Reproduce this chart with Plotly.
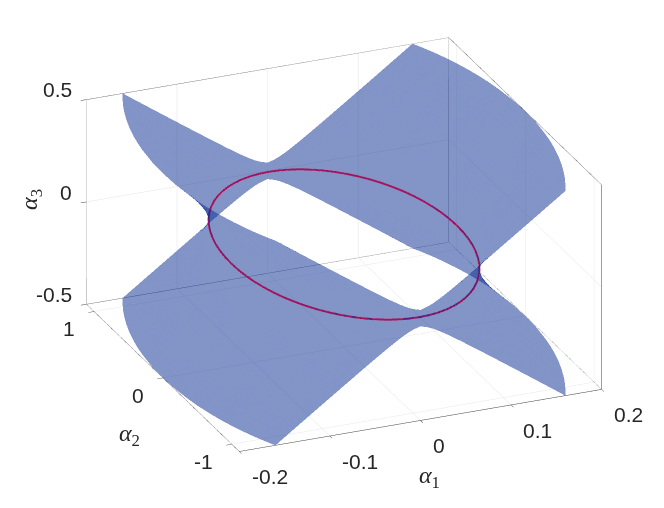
#!/usr/bin/env python3
"""Hyperboloid-like surface in (alpha1, alpha2, alpha3) with its waist ellipse."""

import plotly.graph_objects as go

# values, one quadrant (alpha1 >= 0, alpha2 >= 0, alpha3 >= 0)
alpha2_levels = [0, 0.1665, 0.333, 0.444, 0.555, 0.666, 0.777, 0.8658, 0.944, 1.032, 1.077, 1.099, 1.11]
alpha3_levels = [0, 0.02, 0.04, 0.05, 0.06, 0.08, 0.11, 0.15, 0.2, 0.26, 0.33, 0.41, 0.5]
alpha1_table = [
    [0.1241, 0.1227, 0.1183, 0.1136, 0.1072, 0.0989, 0.0881, 0.0769, 0.0643, 0.0437, 0.0269, 0.0105, 0],
    [0.1243, 0.1228, 0.1185, 0.1138, 0.1074, 0.0991, 0.0883, 0.0771, 0.0646, 0.0441, 0.0276, 0.0123, 0],
    [0.1247, 0.1233, 0.1190, 0.1143, 0.1080, 0.0997, 0.0890, 0.0779, 0.0655, 0.0455, 0.0298, 0.0166, 0],
    [0.1251, 0.1237, 0.1193, 0.1147, 0.1084, 0.1002, 0.0895, 0.0785, 0.0662, 0.0465, 0.0313, 0.0192, 0.0076],
    [0.1255, 0.1241, 0.1198, 0.1152, 0.1089, 0.1007, 0.0901, 0.0792, 0.0670, 0.0477, 0.0330, 0.0219, 0.0131],
    [0.1266, 0.1252, 0.1210, 0.1164, 0.1102, 0.1021, 0.0917, 0.0810, 0.0691, 0.0506, 0.0372, 0.0277, 0.0214],
    [0.1288, 0.1274, 0.1233, 0.1188, 0.1127, 0.1049, 0.0947, 0.0845, 0.0732, 0.0561, 0.0444, 0.0369, 0.0324],
    [0.1327, 0.1314, 0.1274, 0.1230, 0.1172, 0.1097, 0.1001, 0.0905, 0.0801, 0.0649, 0.0551, 0.0493, 0.0461],
    [0.1391, 0.1378, 0.1340, 0.1299, 0.1244, 0.1174, 0.1086, 0.0998, 0.0906, 0.0775, 0.0696, 0.0651, 0.0627],
    [0.1485, 0.1473, 0.1438, 0.1400, 0.1350, 0.1287, 0.1207, 0.1130, 0.1050, 0.0940, 0.0876, 0.0841, 0.0823],
    [0.1616, 0.1606, 0.1573, 0.1540, 0.1495, 0.1438, 0.1369, 0.1302, 0.1234, 0.1144, 0.1092, 0.1065, 0.1051],
    [0.1787, 0.1778, 0.1750, 0.1720, 0.1681, 0.1631, 0.1571, 0.1515, 0.1458, 0.1384, 0.1342, 0.1321, 0.1310],
    [0.2000, 0.1992, 0.1967, 0.1942, 0.1908, 0.1866, 0.1815, 0.1767, 0.1720, 0.1660, 0.1626, 0.1609, 0.1600],
]

# waist ellipse at alpha3 = 0, first quadrant of it
ring_q_alpha1 = [
    0.1242, 0.1237, 0.1223, 0.1200, 0.1167, 0.1126, 0.1076, 0.1017, 0.0951, 0.0878,
    0.0798, 0.0712, 0.0621, 0.0525, 0.0425, 0.0321, 0.0216, 0.0108, 0,
]
ring_q_alpha2 = [
    0, 0.0955, 0.1901, 0.2834, 0.3745, 0.4628, 0.5476, 0.6281, 0.7040, 0.7743,
    0.8389, 0.8971, 0.9484, 0.9925, 1.0291, 1.0578, 1.0785, 1.0909, 1.0951,
]

alpha1_range = [-0.2, 0.2]
alpha2_range = [-1.11, 1.11]
alpha3_range = [-0.5, 0.5]

alpha1_ticks = [-0.2, -0.1, 0, 0.1, 0.2]
alpha1_labels = ["-0.2", "-0.1", "0", "0.1", "0.2"]
alpha2_ticks = [-1, 0, 1]
alpha2_labels = ["-1", "0", "1"]
alpha3_ticks = [-0.5, 0, 0.5]
alpha3_labels = ["-0.5", "0", "0.5"]

SURFACE_COLOR = "rgb(7,43,145)"
RING_COLOR = "#A3125C"
BOX_COLOR = "#404040"
TEXT_COLOR = "#262626"
TICK_FONT = dict(family="Liberation Sans", size=21, color=TEXT_COLOR)
TITLE_FONT = dict(family="Liberation Serif", size=24, color=TEXT_COLOR)


def build_sheet(side):
    """Unfold the quadrant table into one sheet (side = +1 or -1 in alpha1)"""
    rows = alpha1_table[::-1] + alpha1_table[1:]
    x = [[side * v for v in row[::-1] + row[1:]] for row in rows]
    zs = [-v for v in alpha3_levels[::-1]] + alpha3_levels[1:]
    ys = [-v for v in alpha2_levels[::-1]] + alpha2_levels[1:]
    y = [ys for _ in rows]
    z = [[v] * len(ys) for v in zs]
    return x, y, z


fig = go.Figure()

for side in (1, -1):
    x, y, z = build_sheet(side)
    fig.add_trace(go.Surface(
        x=x, y=y, z=z,
        surfacecolor=[[0] * len(r) for r in x],
        colorscale=[[0, SURFACE_COLOR], [1, SURFACE_COLOR]],
        showscale=False,
        opacity=0.5,
        lighting=dict(ambient=1, diffuse=0, specular=0, roughness=1, fresnel=0),
        hoverinfo="skip",
    ))

# back edges of the axes box
x0, x1 = alpha1_range
y0, y1 = alpha2_range
z0, z1 = alpha3_range
fig.add_trace(go.Scatter3d(
    x=[x0, x0, x1, x1, x1, x0, x0, None, x1, x1],
    y=[y0, y1, y1, y0, y1, y1, y1, None, y0, y0],
    z=[z0, z0, z0, z0, z0, z0, z1, None, z0, z1],
    mode="lines",
    line=dict(color=BOX_COLOR, width=1),
    hoverinfo="skip",
    showlegend=False,
))
fig.add_trace(go.Scatter3d(
    x=[x0, x0, x1, x1, None, x1, x1, None, x0, x1],
    y=[y1, y1, y1, y0, None, y1, y1, None, y0, y0],
    z=[z1, z1, z1, z1, None, z0, z1, None, z0, z0],
    mode="lines",
    line=dict(color=BOX_COLOR, width=1),
    hoverinfo="skip",
    showlegend=False,
))

# close the ring from its first quadrant
ring_alpha1 = ring_q_alpha1 + [-v for v in ring_q_alpha1[-2::-1]] + [-v for v in ring_q_alpha1[1:]] + ring_q_alpha1[-2::-1]
ring_alpha2 = ring_q_alpha2 + ring_q_alpha2[-2::-1] + [-v for v in ring_q_alpha2[1:]] + [-v for v in ring_q_alpha2[-2::-1]]
fig.add_trace(go.Scatter3d(
    x=ring_alpha1, y=ring_alpha2, z=[0] * len(ring_alpha1),
    mode="lines",
    line=dict(color=RING_COLOR, width=4),
    hoverinfo="skip",
    showlegend=False,
))

annotations = []
for val, lab in zip(alpha1_ticks, alpha1_labels):
    annotations.append(dict(x=val, y=y0, z=z0, text=lab, showarrow=False, font=TICK_FONT,
                            xanchor="left", yanchor="middle", xshift=10, yshift=-25))
for val, lab in zip(alpha2_ticks, alpha2_labels):
    annotations.append(dict(x=x0, y=val, z=z0, text=lab, showarrow=False, font=TICK_FONT,
                            xanchor="right", yanchor="middle", xshift=-17, yshift=-17))
for val, lab in zip(alpha3_ticks, alpha3_labels):
    annotations.append(dict(x=x0, y=y1, z=val, text=lab, showarrow=False, font=TICK_FONT,
                            xanchor="right", yanchor="middle", xshift=-13, yshift=10))

annotations.append(dict(x=0, y=y0, z=z0, text="<i>α</i><sub>1</sub>", showarrow=False,
                        font=TITLE_FONT, xshift=9, yshift=-56))
annotations.append(dict(x=x0, y=0, z=z0, text="<i>α</i><sub>2</sub>", showarrow=False,
                        font=TITLE_FONT, xshift=-34, yshift=-57))
annotations.append(dict(x=x0, y=y1, z=0, text="<i>α</i><sub>3</sub>", showarrow=False,
                        font=TITLE_FONT, textangle=-90, xshift=-56, yshift=3))

axis_style = dict(
    showbackground=False,
    showgrid=True,
    gridcolor="#E4E4E4",
    gridwidth=1,
    zeroline=False,
    showline=False,
    ticks="outside",
    ticklen=6,
    tickcolor=BOX_COLOR,
    showticklabels=False,
    showspikes=False,
    title=dict(text=""),
)

fig.update_layout(
    width=664,
    height=508,
    margin=dict(l=0, r=0, t=0, b=0),
    paper_bgcolor="white",
    showlegend=False,
    scene=dict(
        domain=dict(x=[0.0128, 1], y=[0.068, 1]),
        xaxis=dict(range=alpha1_range, tickvals=alpha1_ticks, **axis_style),
        yaxis=dict(range=alpha2_range, tickvals=alpha2_ticks, **axis_style),
        zaxis=dict(range=alpha3_range, tickvals=alpha3_ticks, **axis_style),
        aspectmode="manual",
        aspectratio=dict(x=1.663, y=1.663, z=0.947),
        camera=dict(
            projection=dict(type="orthographic"),
            eye=dict(x=-1.065, y=-2.525, z=1.219),
            up=dict(x=0, y=0, z=1),
            center=dict(x=0, y=0, z=0),
        ),
        annotations=annotations,
    ),
)

fig.write_html("out.html")
